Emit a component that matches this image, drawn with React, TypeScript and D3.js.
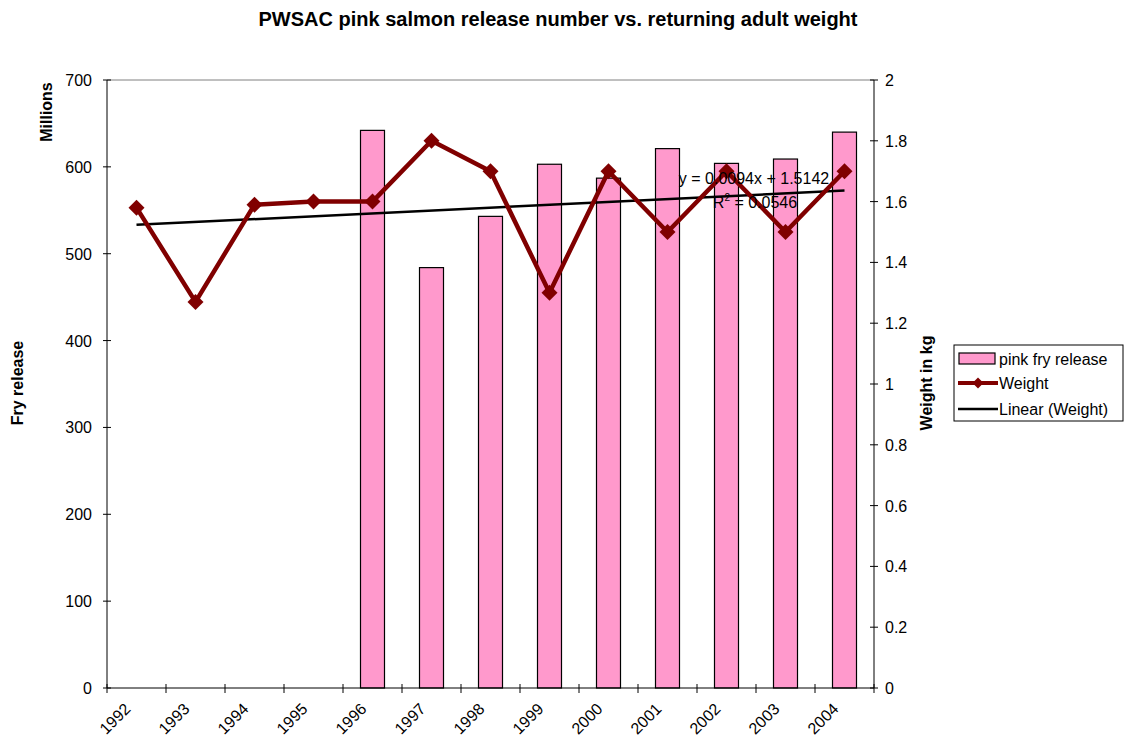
import React from "react";
import * as d3 from "d3";

const years = ["1992","1993","1994","1995","1996","1997","1998","1999","2000","2001","2002","2003","2004"];
const fryRelease: (number | null)[] = [null, null, null, null, 642, 484, 543, 603, 587, 621, 604, 609, 640];
const weight = [1.58, 1.27, 1.59, 1.60, 1.60, 1.80, 1.70, 1.30, 1.70, 1.50, 1.70, 1.50, 1.70];
const leftTicks = [0, 100, 200, 300, 400, 500, 600, 700];
const rightTicks = [0, 0.2, 0.4, 0.6, 0.8, 1, 1.2, 1.4, 1.6, 1.8, 2];
const trendSlope = 0.0094;
const trendIntercept = 1.5142;
const trendR2 = 0.0546;

const W = 1127, H = 746;
const L = 107, R = 874, T = 80, B = 688;
const font = "'Liberation Sans', Arial, sans-serif";
const FS = 16;

export default function App() {
  const x = d3.scaleBand<string>().domain(years).range([L, R]).paddingInner(0).paddingOuter(0);
  const yL = d3.scaleLinear().domain([0, 700]).range([B, T]);
  const yR = d3.scaleLinear().domain([0, 2]).range([B, T]);
  const bw = x.bandwidth();
  const cx = (y: string) => (x(y) as number) + bw / 2;
  const line = d3.line<number>().x((_, i) => cx(years[i])).y(d => yR(d));
  const trendPts = [1, years.length].map(i => [cx(years[i - 1]), yR(trendSlope * i + trendIntercept)] as [number, number]);
  const barW = 24;
  const diamond = (px: number, py: number, s = 8) => `M${px},${py - s}L${px + s},${py}L${px},${py + s}L${px - s},${py}Z`;

  return (
    <svg width={W} height={H} style={{ position: "absolute", left: 0, top: 0, fontFamily: font }}>
      <rect width={W} height={H} fill="#fff" />
      <text x={558} y={26} textAnchor="middle" fontSize={20} fontWeight="bold">PWSAC pink salmon release number vs. returning adult weight</text>
      {/* plot border */}
      <line x1={L} x2={R} y1={T} y2={T} stroke="#808080" strokeWidth={1} />
      {/* bars */}
      {years.map((yr, i) => fryRelease[i] == null ? null : (
        <rect key={yr} x={cx(yr) - barW / 2} y={yL(fryRelease[i] as number)} width={barW} height={B - yL(fryRelease[i] as number)} fill="#FF99CC" stroke="#000" strokeWidth={1.2} />
      ))}
      {/* trend line */}
      <line x1={trendPts[0][0]} y1={trendPts[0][1]} x2={trendPts[1][0]} y2={trendPts[1][1]} stroke="#000" strokeWidth={2.5} />
      {/* weight line */}
      <path d={line(weight) as string} fill="none" stroke="#800000" strokeWidth={4.5} strokeLinejoin="round" />
      {weight.map((w, i) => <path key={i} d={diamond(cx(years[i]), yR(w))} fill="#800000" />)}
      {/* equation */}
      <text x={754} y={184} textAnchor="middle" fontSize={FS}>y = {trendSlope.toFixed(4)}x + {trendIntercept.toFixed(4)}</text>
      <text x={755} y={208} textAnchor="middle" fontSize={FS}>R<tspan dy={-7} fontSize={10}>2</tspan><tspan dy={7}> = {trendR2.toFixed(4)}</tspan></text>
      {/* axes */}
      <line x1={L} x2={L} y1={T} y2={B} stroke="#000" />
      <line x1={R} x2={R} y1={T} y2={B} stroke="#000" />
      <line x1={L} x2={R} y1={B} y2={B} stroke="#000" />
      {leftTicks.map(t => (
        <g key={t}>
          <line x1={L - 4} x2={L + 4} y1={yL(t)} y2={yL(t)} stroke="#000" />
          <text x={L - 15} y={yL(t) + 6} textAnchor="end" fontSize={FS}>{t}</text>
        </g>
      ))}
      {rightTicks.map(t => (
        <g key={t}>
          <line x1={R - 4} x2={R + 4} y1={yR(t)} y2={yR(t)} stroke="#000" />
          <text x={R + 11} y={yR(t) + 6} textAnchor="start" fontSize={FS}>{d3.format("~g")(t)}</text>
        </g>
      ))}
      {years.map(yr => (
        <line key={"t" + yr} x1={(x(yr) as number)} x2={(x(yr) as number)} y1={B - 4} y2={B + 5} stroke="#000" />
      ))}
      <line x1={R} x2={R} y1={B - 4} y2={B + 5} stroke="#000" />
      {years.map(yr => (
        <text key={"l" + yr} transform={`translate(${cx(yr) - 5},${B + 22}) rotate(-45)`} textAnchor="end" fontSize={FS}>{yr}</text>
      ))}
      {/* axis titles */}
      <text transform={`translate(23,383) rotate(-90)`} textAnchor="middle" fontSize={FS} fontWeight="bold">Fry release</text>
      <text transform={`translate(52,112) rotate(-90)`} textAnchor="middle" fontSize={FS} fontWeight="bold">Millions</text>
      <text transform={`translate(932,383) rotate(-90)`} textAnchor="middle" fontSize={FS} fontWeight="bold">Weight in kg</text>
      {/* legend */}
      <rect x={954} y={345} width={169} height={76} fill="#fff" stroke="#000" />
      <rect x={959} y={353} width={36} height={11} fill="#FF99CC" stroke="#000" strokeWidth={1.2} />
      <text x={999} y={365} fontSize={FS}>pink fry release</text>
      <line x1={958} x2={998} y1={383} y2={383} stroke="#800000" strokeWidth={4} />
      <path d={diamond(978, 383, 5.5)} fill="#800000" />
      <text x={999} y={389} fontSize={FS}>Weight</text>
      <line x1={958} x2={998} y1={409} y2={409} stroke="#000" strokeWidth={2.5} />
      <text x={999} y={415} fontSize={FS}>Linear (Weight)</text>
    </svg>
  );
}
